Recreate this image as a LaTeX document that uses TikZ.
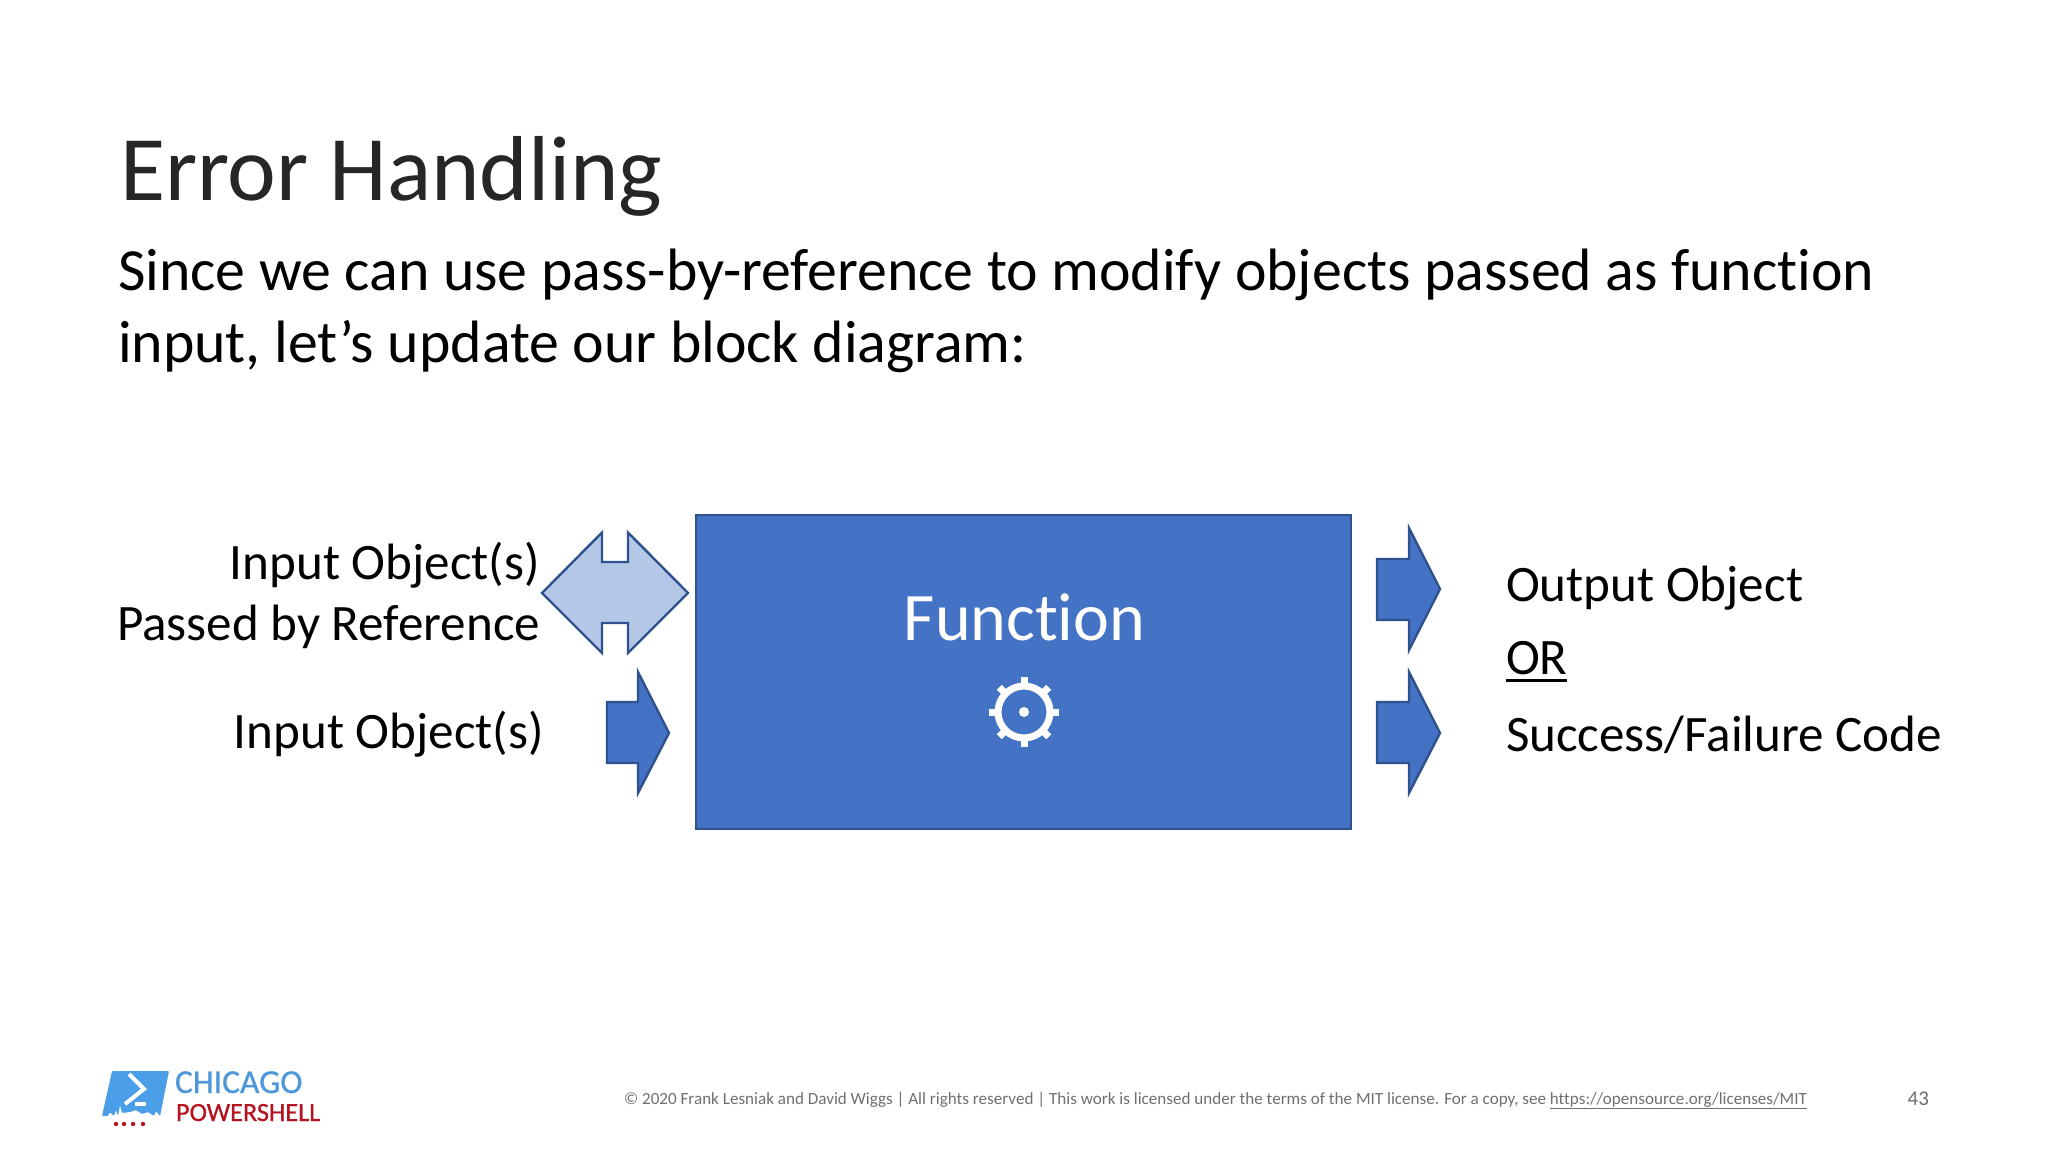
\documentclass[tikz,border=0pt]{standalone}
\usepackage{fontspec}
\usetikzlibrary{calc}
\setmainfont{Carlito}[Ligatures=NoCommon]
\newfontfamily\logofont{Carlito}[FakeBold=0.8]
\definecolor{blockfill}{HTML}{4472C4}
\definecolor{blockline}{HTML}{2F528F}
\definecolor{lightfill}{HTML}{B4C7E7}
\definecolor{logoblue}{HTML}{4A9FE8}
\definecolor{logotext}{HTML}{4E97D8}
\definecolor{logored}{HTML}{B3141F}
\definecolor{footgray}{HTML}{6F6F6F}
\tikzset{
  x=1pt,y=-1pt,
  txt/.style={inner sep=0pt,outer sep=0pt,text=black},
  fs/.style={font=\fontsize{#1}{#1}\selectfont},
  shapeline/.style={draw=blockline,line width=2.4pt,line join=miter,fill=blockfill},
  gearwhite/.style={draw=white,line width=7pt}
}
\begin{document}
\begin{tikzpicture}
\useasboundingbox (0,0) rectangle (2048,1152);
% title and body
\node[txt,fs=92.3,anchor=base west,text=black!85] (title) at (120,200) {Error Handling};
\node[txt,fs=59.8,anchor=base west] (body1) at (118,290) {Since we can use pass-by-reference to modify objects passed as function};
\node[txt,fs=59.8,anchor=base west] (body2) at (118,362) {input, let’s update our block diagram:};
% block
\draw[shapeline] (696,515) rectangle (1351,829);
\node[txt,fs=68,anchor=base,text=white] (func) at (1024.5,640) {Function};
% gear
\draw[draw=white,line width=7pt] (1024,712) circle (26);
\foreach \a in {0,45,...,315}{
  \draw[gearwhite] ($(1024,712)+(\a:27)$) -- ($(1024,712)+(\a:35)$);
}
\fill[white] (1024,712) circle (5);
% double arrow
\draw[draw=blockline,line width=2.4pt,fill=lightfill] (542,593) -- (602,532.5) -- (602,562) -- (628,562) -- (628,532.5) -- (688,593) -- (628,653) -- (628,623) -- (602,623) -- (602,653) -- cycle;
% single arrows
\draw[shapeline] (607,702) -- (638,702) -- (638,672) -- (669,733) -- (638,793) -- (638,763) -- (607,763) -- cycle;
\draw[shapeline] (1377,559) -- (1409,559) -- (1409,528) -- (1440,589) -- (1409,650) -- (1409,620) -- (1377,620) -- cycle;
\draw[shapeline] (1377,702) -- (1409,702) -- (1409,672) -- (1440,733) -- (1409,793) -- (1409,763) -- (1377,763) -- cycle;
% labels
\node[txt,fs=51.1,anchor=base east] (inref) at (540,579) {Input Object(s)};
\node[txt,fs=51.1,anchor=base east] (passed) at (540,640) {Passed by Reference};
\node[txt,fs=51.1,anchor=base east] (inobj) at (544,748) {Input Object(s)};
\node[txt,fs=51.1,anchor=base west] (outobj) at (1506,601) {Output Object};
\node[txt,fs=51.1,anchor=base west] (orlab) at (1506,674) {OR};
\draw[line width=3pt] (1506,680) -- (1567,680);
\node[txt,fs=51.1,anchor=base west] (succ) at (1506,751) {Success/Failure Code};
% footer
\node[txt,fs=17.08,anchor=base west,text=footgray] (foot) at (624,1104) {© 2020 Frank Lesniak and David Wiggs | All rights reserved | This work is licensed under the terms of the MIT license. For a copy, see \underline{https://opensource.org/licenses/MIT}};
\node[txt,fs=21,anchor=base east,text=footgray] (pg) at (1929,1105) {43};
% logo
\fill[logoblue,rounded corners=1pt] (112,1071) -- (169,1071) -- (160,1116) -- (156,1111) -- (154,1116) -- (148,1112) -- (142,1114) -- (136,1110) -- (130,1112) -- (122,1113) -- (120,1105) -- (118,1116) -- (116,1110) -- (114,1116) -- (110,1112) -- (108,1116) -- (102,1116) -- cycle;
\draw[white,line width=4pt] (129,1074) -- (144,1089) -- (125,1104);
\draw[white,line width=4pt] (135,1104) -- (146,1104);
\foreach \px in {116,124,133,143}{\fill[logored] (\px,1124) circle (2.2);}
\node[txt,fs=33.5,anchor=base west,text=logotext] (chi) at (175,1093) {\logofont CHICAGO};
\node[txt,fs=26.3,anchor=base west,text=logored] (psh) at (176,1121) {\logofont POWERSHELL};
\end{tikzpicture}
\end{document}
